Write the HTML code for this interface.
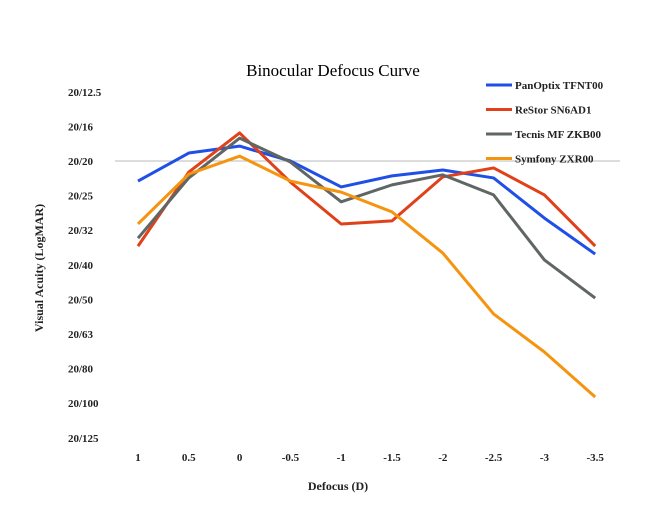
<!DOCTYPE html>
<html><head><meta charset="utf-8"><style>
body{margin:0;background:#fff;}
svg{display:block;font-family:"Liberation Serif",serif;}
</style></head><body>
<svg id="c" width="649" height="505"></svg>
<script>
const categories=["1","0.5","0","-0.5","-1","-1.5","-2","-2.5","-3","-3.5"];
const yTickLabels=["20/12.5","20/16","20/20","20/25","20/32","20/40","20/50","20/63","20/80","20/100","20/125"];
const yTickValues=[-0.2,-0.1,0,0.1,0.2,0.3,0.4,0.5,0.6,0.7,0.8];
const seriesNames=["PanOptix TFNT00","ReStor SN6AD1","Tecnis MF ZKB00","Symfony ZXR00"];
const panoptix=[0.058,-0.023,-0.043,0,0.075,0.043,0.026,0.049,0.165,0.269];
const restor=[0.246,0.032,-0.081,0.061,0.182,0.173,0.046,0.02,0.098,0.246];
const tecnis=[0.223,0.049,-0.066,0.003,0.118,0.069,0.040,0.098,0.286,0.396];
const symfony=[0.182,0.038,-0.014,0.058,0.09,0.147,0.266,0.442,0.552,0.682];
const colors=["#1f4fe6","#e0401a","#5f6664","#f5940f"];
const NS="http://www.w3.org/2000/svg";
const svg=document.getElementById('c');
function x(i){return 138+i*50.8;}
function y(v){return 161+v*346;}
function mk(tag,attrs,parent){const e=document.createElementNS(NS,tag);for(const k in attrs)e.setAttribute(k,attrs[k]);(parent||svg).appendChild(e);return e;}
let t=mk('text',{x:333,y:76,'text-anchor':'middle','font-size':17,fill:'#000'});


t.textContent="Binocular Defocus Curve";
let g=mk('line',{x1:115,x2:620,y1:y(0),y2:y(0),stroke:'#bbb','stroke-width':1});


yTickLabels.forEach((l,i)=>{const e=mk('text',{x:68,y:y(yTickValues[i])+4,'font-size':11,'font-weight':'bold',fill:'#222'});


e.textContent=l;});
categories.forEach((c,i)=>{const e=mk('text',{x:x(i),y:461,'text-anchor':'middle','font-size':11,'font-weight':'bold',fill:'#222'});


e.textContent=c;});
let xt=mk('text',{x:338,y:490,'text-anchor':'middle','font-size':12,'font-weight':'bold',fill:'#222'});


xt.textContent="Defocus (D)";
let yt=mk('text',{x:0,y:0,'text-anchor':'middle','font-size':12,'font-weight':'bold',fill:'#222',transform:'translate(43,268) rotate(-90)'});


yt.textContent="Visual Acuity  (LogMAR)";
[panoptix,restor,tecnis,symfony].forEach((s,k)=>{
 const p=mk('polyline',{points:s.map((v,i)=>x(i)+','+y(v)).join(' '),fill:'none',stroke:colors[k],'stroke-width':3,'stroke-linejoin':'round'});
 
 
});
seriesNames.forEach((n,k)=>{
 const ly=85+k*24.5;
 const gr=mk('g',{});
 
 
 mk('line',{x1:486,x2:512,y1:ly,y2:ly,stroke:colors[k],'stroke-width':3},gr);
 const e=mk('text',{x:515,y:ly+4,'font-size':11,'font-weight':'bold',fill:'#222'},gr);
 e.textContent=n;
});
</script>
</body></html>
